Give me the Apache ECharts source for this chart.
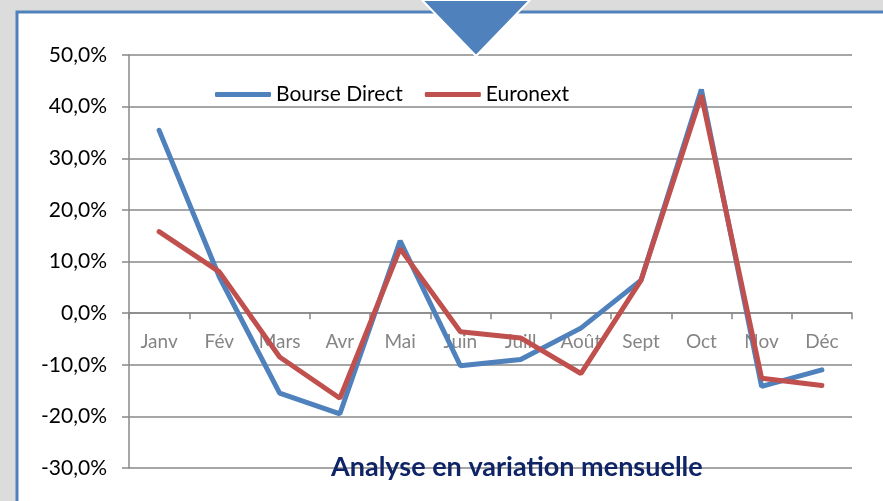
<!DOCTYPE html>
<html>
<head>
<meta charset="utf-8">
<script src="https://cdn.jsdelivr.net/npm/echarts@6/dist/echarts.min.js"></script>
<style>
  html, body { margin: 0; padding: 0; }
  #chart { width: 883px; height: 501px; }
</style>
</head>
<body>
<div id="chart"></div>
<script>
// mois
const months = ["Janv", "Fév", "Mars", "Avr", "Mai", "Juin", "Juill", "Août", "Sept", "Oct", "Nov", "Déc"];

// variation mensuelle en %
const bourseDirect = [35.4, 7.0, -15.5, -19.5, 14.0, -10.2, -9.0, -2.9, 6.4, 43.3, -14.2, -11.0];
const euronext = [15.8, 8.0, -8.5, -16.5, 12.5, -3.6, -4.8, -11.7, 6.4, 42.2, -12.6, -14.0];

const yTicks = { min: -30, max: 50, step: 10 };

const chart = echarts.init(document.getElementById("chart"));

chart.setOption({
  backgroundColor: "#dcdcdc",
  graphic: [
    {
      type: "rect",
      z: -10,
      shape: { x: 17, y: 12, width: 900, height: 520 },
      style: { fill: "#ffffff", stroke: "#4f81bd", lineWidth: 3 },
    },
    {
      type: "polygon",
      z: 10,
      shape: { points: [[422, 0], [530, 0], [476, 56]] },
      style: { fill: "#4f81bd", stroke: "#ffffff", lineWidth: 2 },
    },
  ],
  title: {
    text: "Analyse en variation mensuelle",
    left: 326,
    top: 449,
    textStyle: {
      fontFamily: "Lato",
      fontWeight: "bold",
      fontSize: 27,
      color: "#0f2466",
    },
  },
  legend: {
    left: 210,
    top: 79,
    itemGap: 22,
    itemWidth: 56,
    itemHeight: 5,
    icon: "roundRect",
    textStyle: { fontFamily: "Lato", fontSize: 21, color: "#000" },
    data: ["Bourse Direct", "Euronext"],
  },
  grid: {
    left: 129,
    right: 31,
    top: 55,
    bottom: 33,
  },
  xAxis: {
    type: "category",
    data: months,
    boundaryGap: true,
    axisLine: { onZero: true, lineStyle: { color: "#888", width: 1.5 } },
    axisTick: { show: true, interval: 0, length: 6, lineStyle: { color: "#888", width: 1.5 } },
    axisLabel: {
      interval: 0,
      // les libellés restent sous la ligne du zéro
      margin: -136,
      fontFamily: "Lato",
      fontSize: 19,
      color: "#858585",
    },
  },
  yAxis: {
    type: "value",
    min: yTicks.min,
    max: yTicks.max,
    interval: yTicks.step,
    axisLine: { show: true, lineStyle: { color: "#888", width: 1.5 } },
    axisTick: { show: true, length: 7, lineStyle: { color: "#888", width: 1.5 } },
    splitLine: { lineStyle: { color: "#888", width: 1.5 } },
    axisLabel: {
      margin: 22,
      fontFamily: "Lato",
      fontSize: 21,
      color: "#000",
      formatter: (v) => v.toFixed(1).replace(".", ",") + "%",
    },
  },
  series: [
    {
      name: "Bourse Direct",
      type: "line",
      data: bourseDirect,
      symbol: "none",
      color: "#4f81bd",
      lineStyle: { width: 5, color: "#4f81bd", cap: "round" },
    },
    {
      name: "Euronext",
      type: "line",
      data: euronext,
      symbol: "none",
      color: "#c0504d",
      lineStyle: { width: 5, color: "#c0504d", cap: "round" },
    },
  ],
});
</script>
</body>
</html>
